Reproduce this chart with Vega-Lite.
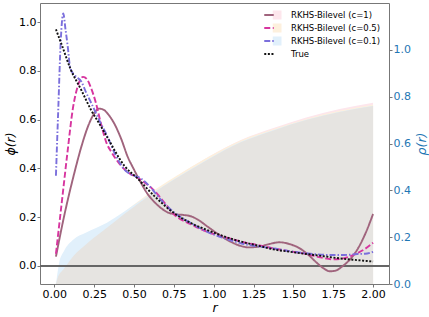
{
  "$schema": "https://vega.github.io/schema/vega-lite/v6.json",
  "width": 349,
  "height": 281,
  "autosize": {"type": "none"},
  "padding": {"left": 40, "top": 3, "right": 40, "bottom": 33},
  "config": {
    "view": {"stroke": "#777", "strokeWidth": 1},
    "font": "DejaVu Sans",
    "axis": {
      "labelFont": "DejaVu Sans", "labelFontSize": 11, "labelColor": "#000",
      "tickColor": "#777", "tickSize": 3, "labelPadding": 1, "grid": false, "domain": false,
      "titleFont": "DejaVu Sans", "titleFontSize": 12.5, "titleFontWeight": "normal",
      "titleColor": "#000", "titleFontStyle": "italic"
    }
  },
  "datasets": {
    "rhoTrue": [
      {"r": 0.01, "rho": 0}, {"r": 0.02, "rho": 0.025}, {"r": 0.06, "rho": 0.065}, {"r": 0.12, "rho": 0.12},
      {"r": 0.2, "rho": 0.17}, {"r": 0.33, "rho": 0.24}, {"r": 0.54, "rho": 0.35}, {"r": 0.75, "rho": 0.445},
      {"r": 0.96, "rho": 0.53}, {"r": 1.17, "rho": 0.605}, {"r": 1.38, "rho": 0.657}, {"r": 1.58, "rho": 0.7},
      {"r": 1.79, "rho": 0.735}, {"r": 2.0, "rho": 0.76}
    ],
    "rhoEst": [
      {"series": "RKHS-Bilevel (c=1)", "r": 0.01, "rho": 0}, {"series": "RKHS-Bilevel (c=1)", "r": 0.06, "rho": 0.068},
      {"series": "RKHS-Bilevel (c=1)", "r": 0.12, "rho": 0.122}, {"series": "RKHS-Bilevel (c=1)", "r": 0.2, "rho": 0.172},
      {"series": "RKHS-Bilevel (c=1)", "r": 0.33, "rho": 0.243}, {"series": "RKHS-Bilevel (c=1)", "r": 0.54, "rho": 0.355},
      {"series": "RKHS-Bilevel (c=1)", "r": 0.75, "rho": 0.452}, {"series": "RKHS-Bilevel (c=1)", "r": 0.96, "rho": 0.54},
      {"series": "RKHS-Bilevel (c=1)", "r": 1.17, "rho": 0.615}, {"series": "RKHS-Bilevel (c=1)", "r": 1.38, "rho": 0.667},
      {"series": "RKHS-Bilevel (c=1)", "r": 1.58, "rho": 0.711}, {"series": "RKHS-Bilevel (c=1)", "r": 1.79, "rho": 0.747},
      {"series": "RKHS-Bilevel (c=1)", "r": 2.0, "rho": 0.774},
      {"series": "RKHS-Bilevel (c=0.5)", "r": 0.01, "rho": 0}, {"series": "RKHS-Bilevel (c=0.5)", "r": 0.06, "rho": 0.075},
      {"series": "RKHS-Bilevel (c=0.5)", "r": 0.12, "rho": 0.127}, {"series": "RKHS-Bilevel (c=0.5)", "r": 0.2, "rho": 0.177},
      {"series": "RKHS-Bilevel (c=0.5)", "r": 0.33, "rho": 0.248}, {"series": "RKHS-Bilevel (c=0.5)", "r": 0.54, "rho": 0.36},
      {"series": "RKHS-Bilevel (c=0.5)", "r": 0.75, "rho": 0.455}, {"series": "RKHS-Bilevel (c=0.5)", "r": 0.96, "rho": 0.54},
      {"series": "RKHS-Bilevel (c=0.5)", "r": 1.17, "rho": 0.613}, {"series": "RKHS-Bilevel (c=0.5)", "r": 1.38, "rho": 0.663},
      {"series": "RKHS-Bilevel (c=0.5)", "r": 1.58, "rho": 0.705}, {"series": "RKHS-Bilevel (c=0.5)", "r": 1.79, "rho": 0.74},
      {"series": "RKHS-Bilevel (c=0.5)", "r": 2.0, "rho": 0.765},
      {"series": "RKHS-Bilevel (c=0.1)", "r": 0.01, "rho": 0}, {"series": "RKHS-Bilevel (c=0.1)", "r": 0.03, "rho": 0.09},
      {"series": "RKHS-Bilevel (c=0.1)", "r": 0.06, "rho": 0.14}, {"series": "RKHS-Bilevel (c=0.1)", "r": 0.12, "rho": 0.19},
      {"series": "RKHS-Bilevel (c=0.1)", "r": 0.2, "rho": 0.22}, {"series": "RKHS-Bilevel (c=0.1)", "r": 0.33, "rho": 0.262},
      {"series": "RKHS-Bilevel (c=0.1)", "r": 0.54, "rho": 0.355}, {"series": "RKHS-Bilevel (c=0.1)", "r": 0.75, "rho": 0.447},
      {"series": "RKHS-Bilevel (c=0.1)", "r": 0.96, "rho": 0.532}, {"series": "RKHS-Bilevel (c=0.1)", "r": 1.17, "rho": 0.607},
      {"series": "RKHS-Bilevel (c=0.1)", "r": 1.38, "rho": 0.659}, {"series": "RKHS-Bilevel (c=0.1)", "r": 1.58, "rho": 0.701},
      {"series": "RKHS-Bilevel (c=0.1)", "r": 1.79, "rho": 0.736}, {"series": "RKHS-Bilevel (c=0.1)", "r": 2.0, "rho": 0.761}
    ],
    "phi": [
      {"series": "RKHS-Bilevel (c=1)", "r": 0.01, "phi": 0.038}, {"series": "RKHS-Bilevel (c=1)", "r": 0.06, "phi": 0.2},
      {"series": "RKHS-Bilevel (c=1)", "r": 0.125, "phi": 0.38}, {"series": "RKHS-Bilevel (c=1)", "r": 0.17, "phi": 0.49},
      {"series": "RKHS-Bilevel (c=1)", "r": 0.21, "phi": 0.57}, {"series": "RKHS-Bilevel (c=1)", "r": 0.25, "phi": 0.625},
      {"series": "RKHS-Bilevel (c=1)", "r": 0.28, "phi": 0.645}, {"series": "RKHS-Bilevel (c=1)", "r": 0.31, "phi": 0.64},
      {"series": "RKHS-Bilevel (c=1)", "r": 0.34, "phi": 0.62}, {"series": "RKHS-Bilevel (c=1)", "r": 0.375, "phi": 0.585},
      {"series": "RKHS-Bilevel (c=1)", "r": 0.42, "phi": 0.52}, {"series": "RKHS-Bilevel (c=1)", "r": 0.46, "phi": 0.448},
      {"series": "RKHS-Bilevel (c=1)", "r": 0.5, "phi": 0.395}, {"series": "RKHS-Bilevel (c=1)", "r": 0.54, "phi": 0.345},
      {"series": "RKHS-Bilevel (c=1)", "r": 0.58, "phi": 0.3}, {"series": "RKHS-Bilevel (c=1)", "r": 0.625, "phi": 0.264},
      {"series": "RKHS-Bilevel (c=1)", "r": 0.67, "phi": 0.237}, {"series": "RKHS-Bilevel (c=1)", "r": 0.71, "phi": 0.22},
      {"series": "RKHS-Bilevel (c=1)", "r": 0.76, "phi": 0.212}, {"series": "RKHS-Bilevel (c=1)", "r": 0.81, "phi": 0.209},
      {"series": "RKHS-Bilevel (c=1)", "r": 0.86, "phi": 0.203}, {"series": "RKHS-Bilevel (c=1)", "r": 0.9, "phi": 0.19},
      {"series": "RKHS-Bilevel (c=1)", "r": 0.96, "phi": 0.162}, {"series": "RKHS-Bilevel (c=1)", "r": 1.02, "phi": 0.134},
      {"series": "RKHS-Bilevel (c=1)", "r": 1.09, "phi": 0.105}, {"series": "RKHS-Bilevel (c=1)", "r": 1.17, "phi": 0.082},
      {"series": "RKHS-Bilevel (c=1)", "r": 1.22, "phi": 0.076}, {"series": "RKHS-Bilevel (c=1)", "r": 1.28, "phi": 0.079},
      {"series": "RKHS-Bilevel (c=1)", "r": 1.35, "phi": 0.09}, {"series": "RKHS-Bilevel (c=1)", "r": 1.41, "phi": 0.097},
      {"series": "RKHS-Bilevel (c=1)", "r": 1.48, "phi": 0.089}, {"series": "RKHS-Bilevel (c=1)", "r": 1.54, "phi": 0.072},
      {"series": "RKHS-Bilevel (c=1)", "r": 1.6, "phi": 0.042}, {"series": "RKHS-Bilevel (c=1)", "r": 1.65, "phi": 0.011},
      {"series": "RKHS-Bilevel (c=1)", "r": 1.69, "phi": -0.01}, {"series": "RKHS-Bilevel (c=1)", "r": 1.73, "phi": -0.022},
      {"series": "RKHS-Bilevel (c=1)", "r": 1.77, "phi": -0.018}, {"series": "RKHS-Bilevel (c=1)", "r": 1.81, "phi": 0.0},
      {"series": "RKHS-Bilevel (c=1)", "r": 1.86, "phi": 0.03}, {"series": "RKHS-Bilevel (c=1)", "r": 1.9, "phi": 0.066},
      {"series": "RKHS-Bilevel (c=1)", "r": 1.95, "phi": 0.13}, {"series": "RKHS-Bilevel (c=1)", "r": 2.0, "phi": 0.213},

      {"series": "RKHS-Bilevel (c=0.5)", "r": 0.01, "phi": 0.05}, {"series": "RKHS-Bilevel (c=0.5)", "r": 0.05, "phi": 0.28},
      {"series": "RKHS-Bilevel (c=0.5)", "r": 0.084, "phi": 0.475}, {"series": "RKHS-Bilevel (c=0.5)", "r": 0.115, "phi": 0.64},
      {"series": "RKHS-Bilevel (c=0.5)", "r": 0.146, "phi": 0.735}, {"series": "RKHS-Bilevel (c=0.5)", "r": 0.18, "phi": 0.775},
      {"series": "RKHS-Bilevel (c=0.5)", "r": 0.205, "phi": 0.765}, {"series": "RKHS-Bilevel (c=0.5)", "r": 0.23, "phi": 0.73},
      {"series": "RKHS-Bilevel (c=0.5)", "r": 0.26, "phi": 0.67}, {"series": "RKHS-Bilevel (c=0.5)", "r": 0.29, "phi": 0.59},
      {"series": "RKHS-Bilevel (c=0.5)", "r": 0.33, "phi": 0.5}, {"series": "RKHS-Bilevel (c=0.5)", "r": 0.36, "phi": 0.465},
      {"series": "RKHS-Bilevel (c=0.5)", "r": 0.42, "phi": 0.41}, {"series": "RKHS-Bilevel (c=0.5)", "r": 0.47, "phi": 0.38},
      {"series": "RKHS-Bilevel (c=0.5)", "r": 0.52, "phi": 0.363}, {"series": "RKHS-Bilevel (c=0.5)", "r": 0.57, "phi": 0.34},
      {"series": "RKHS-Bilevel (c=0.5)", "r": 0.625, "phi": 0.31}, {"series": "RKHS-Bilevel (c=0.5)", "r": 0.69, "phi": 0.26},
      {"series": "RKHS-Bilevel (c=0.5)", "r": 0.75, "phi": 0.212}, {"series": "RKHS-Bilevel (c=0.5)", "r": 0.86, "phi": 0.17},
      {"series": "RKHS-Bilevel (c=0.5)", "r": 0.96, "phi": 0.14}, {"series": "RKHS-Bilevel (c=0.5)", "r": 1.07, "phi": 0.118},
      {"series": "RKHS-Bilevel (c=0.5)", "r": 1.17, "phi": 0.1}, {"series": "RKHS-Bilevel (c=0.5)", "r": 1.28, "phi": 0.085},
      {"series": "RKHS-Bilevel (c=0.5)", "r": 1.375, "phi": 0.072}, {"series": "RKHS-Bilevel (c=0.5)", "r": 1.48, "phi": 0.06},
      {"series": "RKHS-Bilevel (c=0.5)", "r": 1.58, "phi": 0.049}, {"series": "RKHS-Bilevel (c=0.5)", "r": 1.67, "phi": 0.035},
      {"series": "RKHS-Bilevel (c=0.5)", "r": 1.75, "phi": 0.027}, {"series": "RKHS-Bilevel (c=0.5)", "r": 1.82, "phi": 0.032},
      {"series": "RKHS-Bilevel (c=0.5)", "r": 1.9, "phi": 0.052}, {"series": "RKHS-Bilevel (c=0.5)", "r": 1.95, "phi": 0.07},
      {"series": "RKHS-Bilevel (c=0.5)", "r": 2.0, "phi": 0.095},

      {"series": "RKHS-Bilevel (c=0.1)", "r": 0.01, "phi": 0.37}, {"series": "RKHS-Bilevel (c=0.1)", "r": 0.025, "phi": 0.65},
      {"series": "RKHS-Bilevel (c=0.1)", "r": 0.04, "phi": 0.92}, {"series": "RKHS-Bilevel (c=0.1)", "r": 0.056, "phi": 1.035},
      {"series": "RKHS-Bilevel (c=0.1)", "r": 0.07, "phi": 0.97}, {"series": "RKHS-Bilevel (c=0.1)", "r": 0.084, "phi": 0.9},
      {"series": "RKHS-Bilevel (c=0.1)", "r": 0.1, "phi": 0.81}, {"series": "RKHS-Bilevel (c=0.1)", "r": 0.13, "phi": 0.78},
      {"series": "RKHS-Bilevel (c=0.1)", "r": 0.17, "phi": 0.755}, {"series": "RKHS-Bilevel (c=0.1)", "r": 0.2, "phi": 0.71},
      {"series": "RKHS-Bilevel (c=0.1)", "r": 0.23, "phi": 0.67}, {"series": "RKHS-Bilevel (c=0.1)", "r": 0.28, "phi": 0.6},
      {"series": "RKHS-Bilevel (c=0.1)", "r": 0.33, "phi": 0.535}, {"series": "RKHS-Bilevel (c=0.1)", "r": 0.38, "phi": 0.46},
      {"series": "RKHS-Bilevel (c=0.1)", "r": 0.44, "phi": 0.395}, {"series": "RKHS-Bilevel (c=0.1)", "r": 0.49, "phi": 0.372},
      {"series": "RKHS-Bilevel (c=0.1)", "r": 0.54, "phi": 0.36}, {"series": "RKHS-Bilevel (c=0.1)", "r": 0.6, "phi": 0.325},
      {"series": "RKHS-Bilevel (c=0.1)", "r": 0.67, "phi": 0.27}, {"series": "RKHS-Bilevel (c=0.1)", "r": 0.75, "phi": 0.22},
      {"series": "RKHS-Bilevel (c=0.1)", "r": 0.86, "phi": 0.175}, {"series": "RKHS-Bilevel (c=0.1)", "r": 0.96, "phi": 0.14},
      {"series": "RKHS-Bilevel (c=0.1)", "r": 1.07, "phi": 0.113}, {"series": "RKHS-Bilevel (c=0.1)", "r": 1.17, "phi": 0.093},
      {"series": "RKHS-Bilevel (c=0.1)", "r": 1.28, "phi": 0.08}, {"series": "RKHS-Bilevel (c=0.1)", "r": 1.375, "phi": 0.072},
      {"series": "RKHS-Bilevel (c=0.1)", "r": 1.48, "phi": 0.06}, {"series": "RKHS-Bilevel (c=0.1)", "r": 1.58, "phi": 0.052},
      {"series": "RKHS-Bilevel (c=0.1)", "r": 1.73, "phi": 0.045}, {"series": "RKHS-Bilevel (c=0.1)", "r": 1.82, "phi": 0.045},
      {"series": "RKHS-Bilevel (c=0.1)", "r": 1.9, "phi": 0.049}, {"series": "RKHS-Bilevel (c=0.1)", "r": 1.95, "phi": 0.05},
      {"series": "RKHS-Bilevel (c=0.1)", "r": 2.0, "phi": 0.058},

      {"series": "True", "r": 0.01, "phi": 0.97}, {"series": "True", "r": 0.05, "phi": 0.9},
      {"series": "True", "r": 0.1, "phi": 0.81}, {"series": "True", "r": 0.17, "phi": 0.72},
      {"series": "True", "r": 0.23, "phi": 0.64}, {"series": "True", "r": 0.29, "phi": 0.575},
      {"series": "True", "r": 0.33, "phi": 0.53}, {"series": "True", "r": 0.44, "phi": 0.41},
      {"series": "True", "r": 0.52, "phi": 0.36}, {"series": "True", "r": 0.63, "phi": 0.285},
      {"series": "True", "r": 0.75, "phi": 0.217}, {"series": "True", "r": 0.86, "phi": 0.175},
      {"series": "True", "r": 0.96, "phi": 0.147}, {"series": "True", "r": 1.07, "phi": 0.12},
      {"series": "True", "r": 1.17, "phi": 0.1}, {"series": "True", "r": 1.28, "phi": 0.083},
      {"series": "True", "r": 1.375, "phi": 0.068}, {"series": "True", "r": 1.48, "phi": 0.058},
      {"series": "True", "r": 1.58, "phi": 0.049}, {"series": "True", "r": 1.69, "phi": 0.04},
      {"series": "True", "r": 1.79, "phi": 0.031}, {"series": "True", "r": 1.9, "phi": 0.024},
      {"series": "True", "r": 2.0, "phi": 0.018}
    ]
  },
  "layer": [
    {
      "layer": [
        {
          "data": {"name": "rhoEst"},
          "mark": {"type": "area", "interpolate": "monotone", "opacity": 1, "clip": true},
          "encoding": {
            "x": {"field": "r", "type": "quantitative", "scale": {"domain": [-0.09, 2.1], "nice": false, "zero": false}, "axis": {"values": [0, 0.25, 0.5, 0.75, 1, 1.25, 1.5, 1.75, 2], "format": ".2f", "title": "r", "titlePadding": 2}},
            "y": {"field": "rho", "type": "quantitative", "stack": null, "scale": {"domain": [0, 1.2], "nice": false}},
            "fill": {
              "field": "series", "type": "nominal",
              "scale": {"domain": ["RKHS-Bilevel (c=1)", "RKHS-Bilevel (c=0.5)", "RKHS-Bilevel (c=0.1)"], "range": ["#fde6ec", "#fdf0dd", "#e1f0fb"]},
              "legend": {"orient": "none", "legendX": 232.5, "legendY": 5.5, "title": null, "padding": 0, "symbolType": "square", "symbolSize": 81, "symbolOpacity": 1, "symbolStrokeWidth": 0, "labelExpr": "''", "labelFontSize": 8.5, "clipHeight": 13, "rowPadding": 0}
            }
          }
        },
        {
          "data": {"name": "rhoTrue"},
          "mark": {"type": "area", "interpolate": "monotone", "color": "#e6e4e1", "opacity": 1, "clip": true},
          "encoding": {
            "x": {"field": "r", "type": "quantitative", "axis": {"values": [0, 0.25, 0.5, 0.75, 1, 1.25, 1.5, 1.75, 2], "format": ".2f", "title": "r", "titlePadding": 2}},
            "y": {"field": "rho", "type": "quantitative", "axis": {"orient": "right", "values": [0, 0.2, 0.4, 0.6, 0.8, 1.0], "format": ".1f", "labelColor": "#1f77b4", "title": "ρ(r)", "titleColor": "#1f77b4", "titleAngle": 270, "titleBaseline": "top", "titlePadding": 5}}
          }
        }
      ]
    },
    {
      "data": {"name": "phi"},
      "layer": [
        {
          "mark": {"type": "rule", "color": "#666", "strokeWidth": 1.2},
          "encoding": {"y": {"datum": 0, "type": "quantitative"}}
        },
        {
          "mark": {"type": "line", "interpolate": "monotone", "strokeWidth": 1.9, "clip": true},
          "encoding": {
            "x": {"field": "r", "type": "quantitative", "axis": {"values": [0, 0.25, 0.5, 0.75, 1, 1.25, 1.5, 1.75, 2], "format": ".2f", "title": "r", "titlePadding": 2}},
            "y": {"field": "phi", "type": "quantitative", "scale": {"domain": [-0.074, 1.078], "nice": false, "zero": false}, "axis": {"values": [0, 0.2, 0.4, 0.6, 0.8, 1.0], "format": ".1f", "title": "ϕ(r)", "titlePadding": 1}},
            "stroke": {
              "field": "series", "type": "nominal",
              "scale": {"domain": ["RKHS-Bilevel (c=1)", "RKHS-Bilevel (c=0.5)", "RKHS-Bilevel (c=0.1)", "True"], "range": ["#a0647d", "#d7359f", "#7b6fdc", "#111111"]},
              "legend": {"orient": "none", "legendX": 223, "legendY": 5.5, "title": null, "padding": 0, "symbolType": "stroke", "symbolSize": 90, "symbolStrokeWidth": 2.2, "labelFont": "DejaVu Sans", "labelFontSize": 8.5, "labelOffset": 16, "clipHeight": 13, "rowPadding": 0}
            },
            "strokeDash": {
              "field": "series", "type": "nominal",
              "scale": {"domain": ["RKHS-Bilevel (c=1)", "RKHS-Bilevel (c=0.5)", "RKHS-Bilevel (c=0.1)", "True"], "range": [[1, 0], [6, 2.5], [6, 2, 1.5, 2], [2, 1.6]]},
              "legend": {"orient": "none", "legendX": 223, "legendY": 5.5, "title": null, "padding": 0, "symbolType": "stroke", "symbolSize": 90, "symbolStrokeWidth": 2.2, "labelFont": "DejaVu Sans", "labelFontSize": 8.5, "labelOffset": 16, "clipHeight": 13, "rowPadding": 0}
            }
          }
        }
      ]
    }
  ],
  "resolve": {"scale": {"y": "independent"}}
}
